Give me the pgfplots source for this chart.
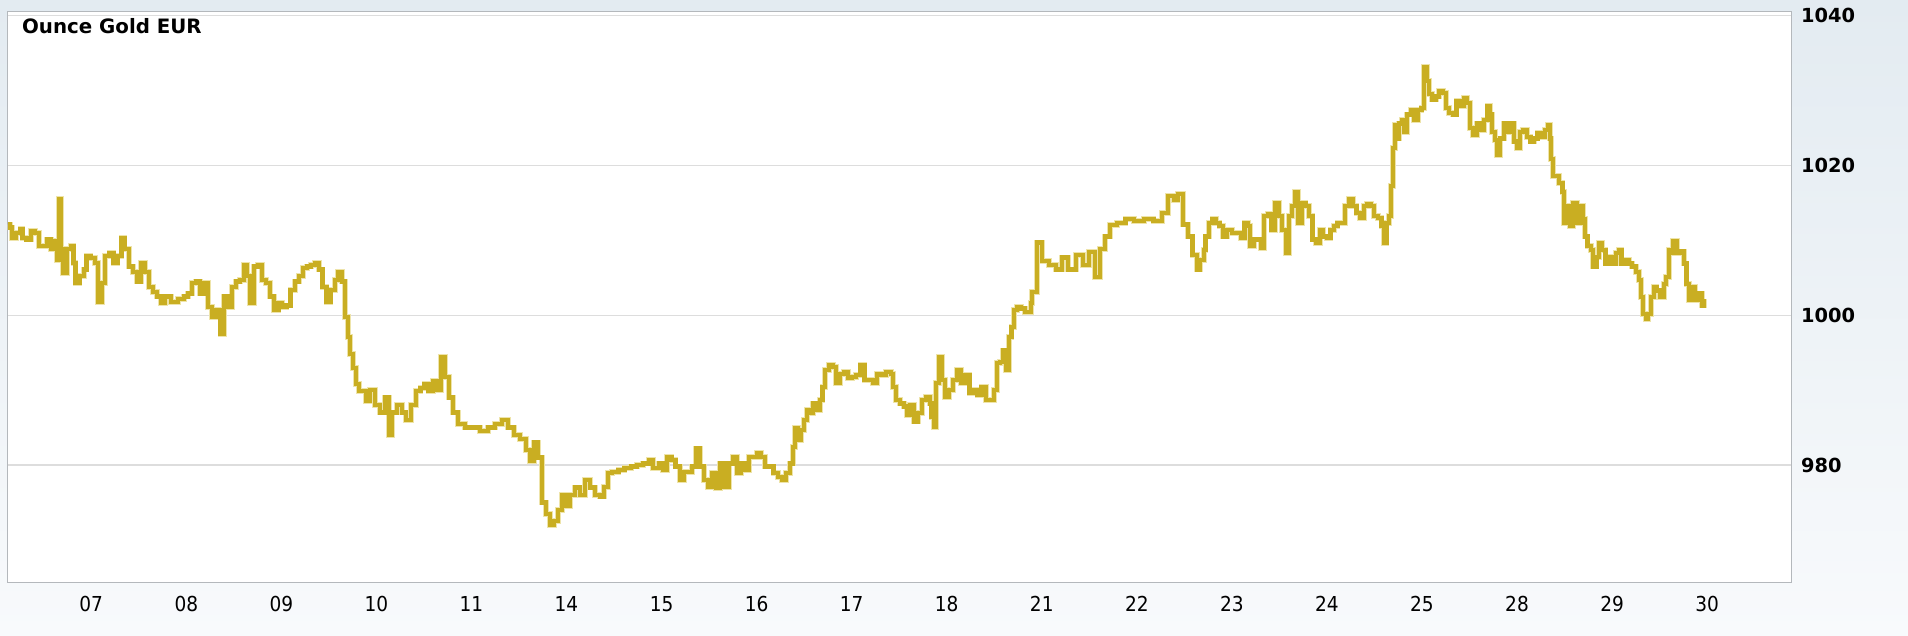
\documentclass[border=0pt]{standalone}
\usepackage{fontspec}
\setmainfont{DejaVu Sans}
\newfontfamily\condfont{DejaVu Sans Condensed}
\usepackage{pgfplots}
\pgfplotsset{compat=1.18}
\usepackage{pgfplotstable}
\definecolor{bgtop}{RGB}{227,235,241}
\definecolor{bgbot}{RGB}{248,250,252}
\definecolor{gold}{RGB}{201,174,34}
\definecolor{goldhalo}{RGB}{238,228,170}
\definecolor{gridc}{RGB}{221,221,221}
\definecolor{borderc}{RGB}{180,184,188}

\pgfplotstableread{
d v
0.126 1012.1
0.147 1011.7
0.168 1010.3
0.211 1011.0
0.255 1011.5
0.276 1010.3
0.319 1010.1
0.362 1011.2
0.405 1011.0
0.448 1009.2
0.512 1009.2
0.533 1010.1
0.577 1008.8
0.620 1009.9
0.641 1007.4
0.663 1015.5
0.684 1008.8
0.706 1005.6
0.748 1008.8
0.791 1009.2
0.813 1007.0
0.834 1004.3
0.877 1005.2
0.921 1006.1
0.950 1007.9
0.993 1007.6
1.036 1007.0
1.071 1001.8
1.113 1004.3
1.148 1007.9
1.191 1008.3
1.234 1007.0
1.277 1007.9
1.319 1010.3
1.350 1008.8
1.393 1006.5
1.436 1005.8
1.478 1004.5
1.521 1007.0
1.564 1005.8
1.608 1003.8
1.650 1003.1
1.693 1002.5
1.736 1001.6
1.779 1002.5
1.843 1001.8
1.909 1002.2
1.973 1002.5
2.016 1002.9
2.058 1004.3
2.101 1004.5
2.144 1002.9
2.187 1004.3
2.230 1001.1
2.273 999.8
2.316 1000.7
2.359 997.5
2.394 1002.5
2.437 1001.1
2.479 1003.8
2.522 1004.5
2.565 1004.7
2.608 1006.7
2.639 1005.2
2.668 1001.6
2.711 1006.5
2.754 1006.7
2.797 1004.7
2.840 1004.3
2.883 1002.5
2.926 1000.7
2.969 1001.6
3.011 1001.1
3.054 1001.3
3.097 1003.4
3.141 1004.5
3.184 1005.2
3.227 1006.3
3.269 1006.5
3.312 1006.7
3.355 1007.0
3.398 1006.1
3.432 1003.8
3.475 1001.8
3.518 1003.4
3.561 1004.7
3.596 1005.8
3.638 1004.5
3.669 999.8
3.699 997.1
3.724 994.8
3.755 993.0
3.784 990.8
3.819 989.9
3.862 989.9
3.891 988.5
3.933 990.0
3.985 988.0
4.038 987.0
4.091 989.0
4.133 984.0
4.164 987.0
4.217 988.0
4.269 987.0
4.312 986.0
4.364 988.0
4.420 989.9
4.463 990.3
4.506 990.8
4.549 989.9
4.592 991.2
4.635 990.0
4.678 994.4
4.721 991.7
4.764 989.0
4.806 987.0
4.859 985.5
4.932 985.0
5.006 985.0
5.090 984.5
5.174 985.0
5.248 985.5
5.322 986.0
5.385 985.0
5.448 984.0
5.511 983.5
5.574 982.0
5.616 980.5
5.658 983.0
5.700 981.0
5.742 975.0
5.784 973.5
5.827 972.0
5.869 972.5
5.911 974.0
5.953 976.0
5.995 974.5
6.037 976.0
6.090 977.0
6.142 976.0
6.195 978.0
6.247 977.0
6.300 976.0
6.353 975.8
6.395 977.1
6.439 978.9
6.481 979.1
6.546 979.3
6.610 979.6
6.675 979.8
6.739 980.0
6.804 980.2
6.868 980.7
6.911 979.6
6.975 980.2
7.019 979.3
7.061 981.1
7.104 980.7
7.147 979.8
7.190 978.0
7.233 979.1
7.276 979.1
7.318 979.8
7.361 982.2
7.405 979.8
7.448 978.0
7.491 977.1
7.533 978.9
7.576 976.9
7.619 980.2
7.662 977.1
7.706 980.2
7.749 981.1
7.791 978.9
7.834 980.2
7.877 979.3
7.920 981.1
7.963 981.1
8.005 981.6
8.049 981.1
8.092 979.8
8.135 979.8
8.178 978.9
8.221 978.4
8.263 978.0
8.306 978.9
8.349 980.2
8.380 982.4
8.405 984.9
8.436 983.3
8.465 984.7
8.500 986.0
8.534 987.3
8.564 986.9
8.595 988.2
8.628 987.3
8.663 988.7
8.693 990.4
8.723 992.7
8.758 993.3
8.801 993.1
8.835 990.9
8.878 992.2
8.921 992.4
8.964 991.6
9.006 991.8
9.049 992.0
9.092 993.3
9.135 991.3
9.178 991.3
9.222 990.9
9.264 992.2
9.315 992.0
9.358 992.4
9.410 992.2
9.436 990.4
9.466 988.7
9.509 988.2
9.552 987.8
9.583 986.7
9.616 988.0
9.659 985.8
9.694 986.9
9.736 988.7
9.779 989.1
9.822 988.2
9.839 986.4
9.866 985.1
9.891 990.9
9.917 994.4
9.951 991.3
9.981 989.1
10.025 990.0
10.068 991.3
10.110 992.7
10.153 990.9
10.196 992.0
10.239 989.6
10.282 990.0
10.325 989.3
10.367 990.4
10.411 988.7
10.454 988.7
10.497 990.0
10.526 993.6
10.561 993.8
10.596 995.3
10.625 992.7
10.656 997.1
10.681 998.4
10.711 1000.7
10.741 1001.1
10.784 1000.9
10.827 1000.4
10.883 1001.6
10.896 1003.1
10.947 1009.7
10.999 1007.2
11.076 1006.7
11.152 1006.1
11.216 1007.7
11.280 1006.1
11.357 1008.0
11.433 1006.7
11.497 1008.4
11.561 1005.1
11.613 1008.8
11.665 1010.5
11.715 1012.0
11.792 1012.3
11.881 1012.9
11.971 1012.6
12.074 1012.8
12.176 1012.6
12.265 1013.7
12.329 1015.9
12.394 1015.4
12.433 1016.2
12.483 1012.1
12.535 1010.5
12.586 1008.0
12.637 1006.1
12.665 1007.4
12.703 1008.7
12.722 1010.5
12.759 1012.3
12.797 1012.8
12.835 1012.3
12.871 1011.9
12.909 1010.5
12.947 1011.4
13.003 1011.0
13.060 1011.0
13.097 1010.3
13.134 1012.3
13.172 1011.9
13.191 1009.2
13.229 1010.1
13.266 1010.1
13.304 1009.0
13.342 1013.2
13.380 1013.5
13.417 1011.4
13.454 1015.0
13.492 1013.2
13.529 1011.4
13.567 1008.3
13.597 1013.2
13.634 1014.6
13.661 1016.4
13.698 1012.3
13.736 1015.0
13.774 1014.6
13.811 1013.2
13.849 1010.1
13.887 1009.6
13.924 1011.4
13.961 1010.5
13.999 1010.3
14.037 1011.4
14.074 1011.9
14.112 1012.3
14.150 1012.3
14.187 1014.6
14.236 1015.5
14.274 1014.6
14.311 1013.7
14.349 1013.0
14.387 1014.6
14.423 1014.8
14.461 1014.6
14.499 1013.2
14.537 1013.0
14.574 1011.9
14.600 1009.6
14.626 1012.3
14.657 1013.2
14.676 1017.3
14.695 1022.3
14.713 1025.4
14.732 1023.6
14.762 1025.6
14.788 1026.1
14.815 1024.5
14.844 1026.8
14.882 1027.4
14.920 1026.1
14.958 1027.4
14.995 1027.7
15.025 1033.1
15.052 1031.3
15.078 1029.5
15.107 1028.8
15.145 1029.2
15.183 1029.9
15.221 1029.7
15.250 1027.7
15.288 1027.0
15.326 1026.8
15.363 1028.6
15.401 1027.9
15.439 1029.0
15.475 1028.3
15.502 1025.0
15.540 1024.1
15.577 1025.6
15.615 1024.7
15.652 1026.1
15.690 1027.9
15.716 1026.8
15.738 1024.5
15.765 1023.4
15.791 1021.4
15.822 1023.6
15.859 1025.6
15.896 1024.5
15.934 1025.6
15.972 1023.2
16.001 1022.3
16.028 1024.5
16.065 1024.7
16.103 1023.8
16.141 1023.2
16.178 1023.6
16.216 1024.3
16.254 1023.8
16.291 1024.7
16.328 1025.4
16.347 1023.6
16.359 1020.9
16.378 1018.6
16.404 1018.6
16.441 1017.7
16.479 1016.4
16.498 1012.3
16.527 1014.6
16.554 1011.9
16.592 1015.0
16.629 1012.3
16.667 1014.6
16.694 1012.8
16.716 1010.5
16.742 1009.2
16.780 1008.7
16.799 1006.5
16.836 1007.8
16.866 1009.6
16.893 1008.7
16.930 1006.9
16.967 1007.8
17.005 1006.9
17.043 1008.3
17.069 1008.7
17.099 1006.9
17.137 1007.4
17.174 1006.9
17.211 1006.5
17.249 1005.8
17.280 1004.7
17.306 1002.4
17.325 1000.2
17.354 999.5
17.381 1000.2
17.407 1002.4
17.438 1003.8
17.467 1003.3
17.505 1002.4
17.543 1004.2
17.569 1005.1
17.595 1008.7
17.618 1008.3
17.644 1009.9
17.682 1008.3
17.720 1008.5
17.757 1006.9
17.783 1004.2
17.813 1002.0
17.843 1003.8
17.869 1002.0
17.907 1002.9
17.944 1001.3
17.971 1002.2
}\gold

\begin{document}
\begin{tikzpicture}
\useasboundingbox (0,0) rectangle (954pt,318pt);
\shade[top color=bgtop, bottom color=bgbot] (0,0) rectangle (954pt,318pt);
\begin{axis}[
  at={(3.85pt,26.65pt)}, anchor=south west,
  scale only axis, width=892pt, height=285.5pt,
  xmin=0.121, xmax=18.890,
  ymin=964.28, ymax=1040.53,
  axis background/.style={fill=white},
  axis line style={draw=borderc, line width=0.65pt},
  xtick={1,...,18},
  xticklabels={07,08,09,10,11,14,15,16,17,18,21,22,23,24,25,28,29,30},
  ytick={980,1000,1020,1040},
  yticklabel pos=right,
  major tick length=0pt,
  ymajorgrids,
  major grid style={draw=gridc, line width=0.7pt},
  /pgf/number format/1000 sep={},
  /pgf/number format/assume math mode=true,
  xticklabel style={font=\condfont\fontsize{10.3}{12}\selectfont, anchor=north, inner sep=0pt, yshift=-6.6pt},
  yticklabel style={font=\fontsize{9.7}{11}\selectfont\bfseries, anchor=west, inner sep=0pt, xshift=4.5pt},
]
\addplot[const plot, draw=goldhalo, line width=2.9pt, line join=miter] table[x=d, y=v] {\gold};
\addplot[const plot, draw=gold, line width=2.1pt, line join=miter] table[x=d, y=v] {\gold};
\end{axis}
\node[anchor=base west, inner sep=0pt, font=\fontsize{9.9}{12}\selectfont\bfseries] at (10.85pt,301pt) {Ounce Gold EUR};
\end{tikzpicture}
\end{document}
